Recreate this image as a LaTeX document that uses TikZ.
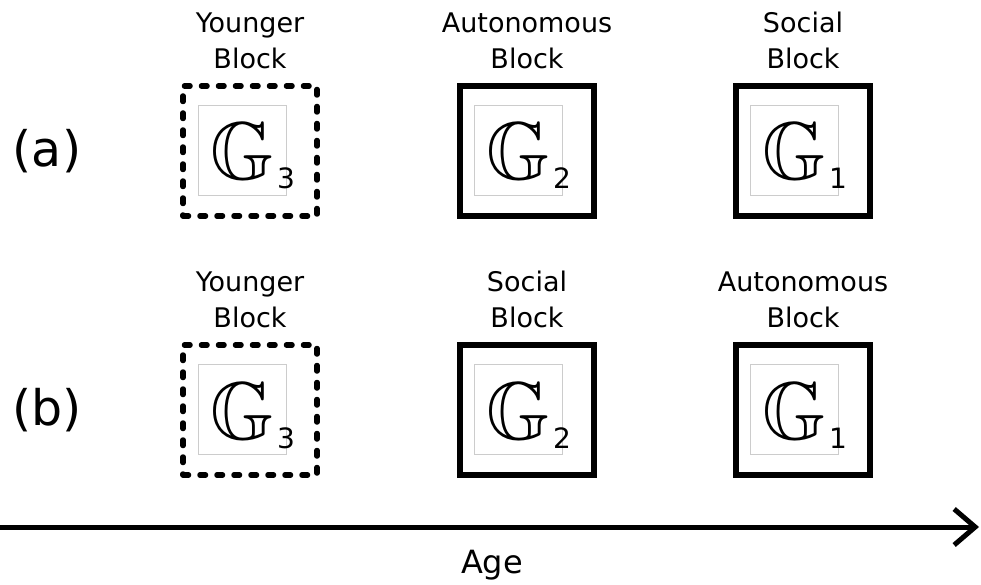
\documentclass[tikz,border=0pt]{standalone}
\usepackage{amssymb}
\usepackage{fontspec}
\setmainfont{DejaVu Sans}
\usetikzlibrary{positioning,arrows.meta}

\newcommand{\bbG}{{\fontsize{82}{82}\selectfont$\mathbb{G}$}}

\begin{document}
\begin{tikzpicture}[x=1pt,y=-1pt,
    block/.style={draw,line width=5.5pt,minimum width=134pt,minimum height=130pt,inner sep=0pt},
    young/.style={block,line cap=round,dash pattern=on 5.5pt off 11.5pt},
    frame/.style={draw=black!20,line width=0.5pt,minimum width=88pt,minimum height=90pt,inner sep=0pt},
    glyph/.style={anchor=base,inner sep=0pt},
    idx/.style={anchor=base,inner sep=0pt,font=\fontsize{28}{28}\selectfont},
    title/.style={align=center,inner sep=0pt,font=\fontsize{27}{36}\selectfont,above=14pt of #1},
    row/.style={inner sep=0pt,font=\fontsize{49}{49}\selectfont}]
    \useasboundingbox (0,0) rectangle (981,585);

    % row (a)
    \node[row] (la) at (47,151) {(a)};
    \node[young] (a1) at (250,151) {};
    \node[block] (a2) at (527,151) {};
    \node[block] (a3) at (803,151) {};
    \node[title=a1] (ta1) {Younger\\Block};
    \node[title=a2] (ta2) {Autonomous\\Block};
    \node[title=a3] (ta3) {Social\\Block};
    \node[frame] (fa1) at (242,150) {};
    \node[frame] (fa2) at (518,150) {};
    \node[frame] (fa3) at (794,150) {};
    \node[glyph] (ga1) at (242,180) {\bbG};
    \node[glyph] (ga2) at (518,180) {\bbG};
    \node[glyph] (ga3) at (794,180) {\bbG};
    \node[idx] (ia1) at (286,189) {3};
    \node[idx] (ia2) at (562,189) {2};
    \node[idx] (ia3) at (838,189) {1};

    % row (b)
    \node[row] (lb) at (47,410) {(b)};
    \node[young] (b1) at (250,410) {};
    \node[block] (b2) at (527,410) {};
    \node[block] (b3) at (803,410) {};
    \node[title=b1] (tb1) {Younger\\Block};
    \node[title=b2] (tb2) {Social\\Block};
    \node[title=b3] (tb3) {Autonomous\\Block};
    \node[frame] (fb1) at (242,409) {};
    \node[frame] (fb2) at (518,409) {};
    \node[frame] (fb3) at (794,409) {};
    \node[glyph] (gb1) at (242,439) {\bbG};
    \node[glyph] (gb2) at (518,439) {\bbG};
    \node[glyph] (gb3) at (794,439) {\bbG};
    \node[idx] (ib1) at (286,448) {3};
    \node[idx] (ib2) at (562,448) {2};
    \node[idx] (ib3) at (838,448) {1};

    % age axis
    \coordinate (start) at (0,527);
    \coordinate (end) at (979,527);
    \draw[line width=5pt,-{Straight Barb[length=21pt,width=36pt]}] (start) -- (end);
    \node[inner sep=0pt,font=\fontsize{32}{32}\selectfont] (age) at (492,565) {Age};
\end{tikzpicture}
\end{document}
